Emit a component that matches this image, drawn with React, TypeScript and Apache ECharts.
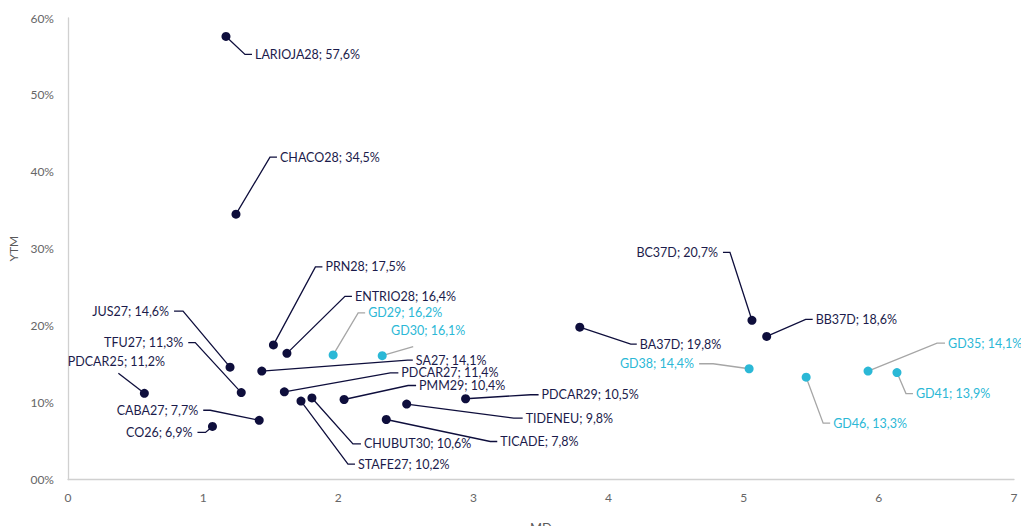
import React, { useEffect, useRef } from "react";
import * as echarts from "echarts";

// ---- data ----
const navyNames = [
  "LARIOJA28", "CHACO28", "PRN28", "ENTRIO28", "JUS27", "SA27", "TFU27", "PDCAR25",
  "PDCAR27", "PMM29", "CHUBUT30", "STAFE27", "PDCAR29", "TIDENEU", "TICADE", "CABA27",
  "CO26", "BA37D", "BC37D", "BB37D",
];
const navyMD = [
  1.169, 1.243, 1.52, 1.62, 1.199, 1.434, 1.282, 0.565,
  1.601, 2.043, 1.805, 1.724, 2.942, 2.506, 2.355, 1.415,
  1.069, 3.787, 5.061, 5.17,
];
const navyYTM = [
  57.6, 34.5, 17.5, 16.4, 14.6, 14.1, 11.3, 11.2,
  11.4, 10.4, 10.6, 10.2, 10.5, 9.8, 7.8, 7.7,
  6.9, 19.8, 20.7, 18.6,
];
const cyanNames = ["GD29", "GD30", "GD38", "GD46", "GD35", "GD41"];
const cyanMD = [1.962, 2.325, 5.04, 5.462, 5.92, 6.134];
const cyanYTM = [16.2, 16.1, 14.4, 13.3, 14.1, 13.9];
const cyanSep = [";", ";", ";", ",", ";", ";"];

const xTicks = [0, 1, 2, 3, 4, 5, 6, 7];
const yTicks = [0, 10, 20, 30, 40, 50, 60];

// ---- label placement (pixel offsets from the point): [elbowDx, elbowDy, segment, textDx, textDy]
const navyLabelPos: number[][] = [
  [19, 18, 7],
  [34, -57, 7],
  [42, -78, 7],
  [58, -57, 7],
  [-47, -56, -9],
  [146, -11, 5],
  [-46, -50, -7],
  [-26, -20, 0, -2, -12],
  [106, -19, 8],
  [64, -14, 8],
  [41, 46, 8],
  [47, 63, 7],
  [65, -4, 8],
  [107, 14, 9],
  [104, 22, 7],
  [-49, -10, -7],
  [-7, 6, -8],
  [51, 17, 6],
  [-22, -68, -7],
  [39, -17, 7],
];
const cyanLabelPos: number[][] = [
  [25, -42, 7],
  [31, -9, 0, 15, -16],
  [-36, -5, -14],
  [17, 46, 7],
  [69, -28, 8],
  [9, 21, 7],
];

const NAVY = "#0e0e3c";
const NAVY_TEXT = "#1b1b4b";
const CYAN = "#2bb8d6";
const GRAY_LINE = "#a6a6a6";
const FONT = "Lato, 'Open Sans', sans-serif";

function makeLabelRender(
  names: string[],
  ytm: number[],
  seps: string[] | null,
  pos: number[][],
  lineColor: string,
  textColor: string
) {
  return (params: any, api: any) => {
    const i = params.dataIndex;
    const p = api.coord([api.value(0), api.value(1)]);
    const [edx, edy, seg, tdx, tdy] = pos[i];
    const ex = p[0] + edx;
    const ey = p[1] + edy;
    const fx = ex + seg;
    const sep = seps ? seps[i] : ";";
    const text = `${names[i]}${sep} ${ytm[i].toFixed(1).replace(".", ",")}%`;
    let tx: number, ty: number, align: string;
    if (seg > 0) {
      tx = fx + 3; ty = ey; align = "left";
    } else if (seg < 0) {
      tx = fx - 5; ty = ey; align = "right";
    } else {
      tx = ex + (tdx || 0); ty = ey + (tdy || 0); align = "center";
    }
    const pts = seg === 0 ? [[p[0], p[1]], [ex, ey]] : [[p[0], p[1]], [ex, ey], [fx, ey]];
    return {
      type: "group",
      children: [
        {
          type: "polyline",
          shape: { points: pts },
          style: { stroke: lineColor, lineWidth: 1.3, fill: null },
          z2: 1,
        },
        {
          type: "text",
          x: tx,
          y: ty,
          style: {
            text,
            fill: textColor,
            font: `12.5px ${FONT}`,
            align,
            verticalAlign: "middle",
          },
          z2: 3,
        },
      ],
    };
  };
}

export default function App() {
  const ref = useRef<HTMLDivElement>(null);
  useEffect(() => {
    if (!ref.current) return;
    const chart = echarts.init(ref.current, null, { renderer: "svg" });
    const navyData = navyMD.map((x, i) => [x, navyYTM[i]]);
    const cyanData = cyanMD.map((x, i) => [x, cyanYTM[i]]);
    chart.setOption({
      animation: false,
      backgroundColor: "#ffffff",
      grid: {
        left: 68,
        right: 7,
        top: 18,
        bottom: 46.5,
        containLabel: false,
        outerBoundsMode: "none",
      },
      xAxis: {
        type: "value",
        min: xTicks[0],
        max: xTicks[xTicks.length - 1],
        interval: 1,
        name: "MD",
        nameLocation: "middle",
        nameGap: 42,
        nameTextStyle: { color: "#595959", fontSize: 13, fontFamily: FONT },
        axisLine: { show: true, lineStyle: { color: "#d0d0d0", width: 1.3 } },
        axisTick: { show: false },
        splitLine: { show: false },
        axisLabel: { color: "#666666", fontSize: 12, fontFamily: FONT, margin: 12 },
      },
      yAxis: {
        type: "value",
        min: yTicks[0],
        max: yTicks[yTicks.length - 1],
        interval: 10,
        name: "YTM",
        nameLocation: "middle",
        nameGap: 46,
        nameRotate: 90,
        nameTextStyle: { color: "#595959", fontSize: 12, fontFamily: FONT },
        axisLine: { show: true, lineStyle: { color: "#d0d0d0", width: 1.3 } },
        axisTick: { show: false },
        splitLine: { show: false },
        axisLabel: {
          color: "#666666",
          fontSize: 12,
          fontFamily: FONT,
          margin: 14,
          formatter: (v: number) => (v === 0 ? "00%" : `${v}%`),
        },
      },
      series: [
        {
          type: "custom",
          renderItem: makeLabelRender(navyNames, navyYTM, null, navyLabelPos, NAVY, NAVY_TEXT),
          data: navyData,
          z: 1,
          silent: true,
        },
        {
          type: "custom",
          renderItem: makeLabelRender(cyanNames, cyanYTM, cyanSep, cyanLabelPos, GRAY_LINE, CYAN),
          data: cyanData,
          z: 1,
          silent: true,
        },
        {
          type: "scatter",
          data: navyData,
          symbolSize: 9,
          itemStyle: { color: NAVY, opacity: 1 },
          z: 3,
        },
        {
          type: "scatter",
          data: cyanData,
          symbolSize: 9,
          itemStyle: { color: CYAN, opacity: 1 },
          z: 3,
        },
      ],
    });
    return () => chart.dispose();
  }, []);
  return (
    <div
      ref={ref}
      style={{ position: "fixed", left: 0, top: 0, width: 1021, height: 526 }}
    />
  );
}
